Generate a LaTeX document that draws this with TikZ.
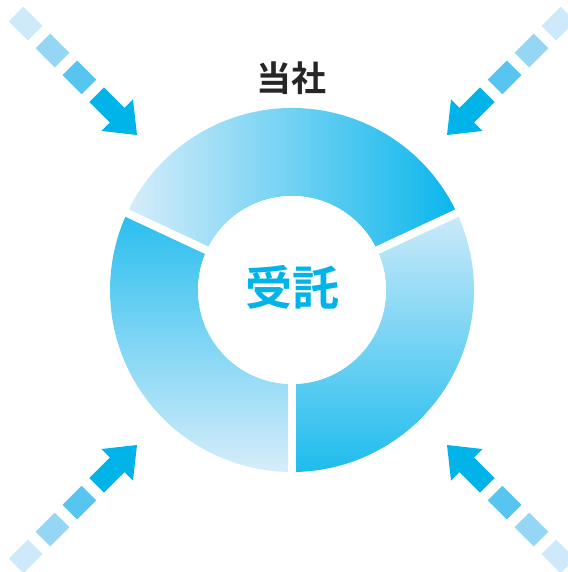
\documentclass[tikz,border=0pt]{standalone}
\usepackage{fontspec}
\newfontfamily\jpfont{Noto Sans CJK JP}[BoldFont={Noto Sans CJK JP Bold}]
\definecolor{ringlight}{RGB}{214,237,250}
\definecolor{ringdark}{RGB}{10,182,236}
\definecolor{dashA}{RGB}{205,233,250}
\definecolor{dashB}{RGB}{150,214,245}
\definecolor{dashC}{RGB}{88,196,240}
\definecolor{arrowcyan}{RGB}{0,180,233}
\tikzset{
  gapline/.style={white, line width=8pt},
  arrowhead/.style={fill=arrowcyan}
}

\begin{document}
\begin{tikzpicture}[x=1pt,y=1pt]
\useasboundingbox (-292,-282) rectangle (275,290);
\shade[left color=ringlight, right color=ringdark] (25:182) arc[start angle=25, end angle=155, radius=182] -- (155:94) arc[start angle=155, end angle=25, radius=94] -- cycle;
\shade[top color=ringdark!85!ringlight, bottom color=ringlight] (155:182) arc[start angle=155, end angle=270, radius=182] -- (270:94) arc[start angle=270, end angle=155, radius=94] -- cycle;
\shade[top color=ringlight!95!ringdark, bottom color=ringdark!90!ringlight] (270:182) arc[start angle=270, end angle=385, radius=182] -- (25:94) arc[start angle=385, end angle=270, radius=94] -- cycle;
\draw[gapline] (0,0) -- (25:195);
\draw[gapline] (0,0) -- (155:195);
\draw[gapline] (0,0) -- (270:195);
\fill[white] (0,0) circle (94);
\node[text=black!85] (company) at (-1,212) {\jpfont\bfseries\fontsize{35}{35}\selectfont 当社};
\node[text=arrowcyan] (entrust) at (0,3) {\jpfont\bfseries\fontsize{47}{47}\selectfont 受託};

\begin{scope}[shift={(-155,155)},rotate=-45]
\fill[dashA] (-171,-10.3) rectangle (-144,10.3);
\fill[dashB] (-133,-10.3) rectangle (-106,10.3);
\fill[dashC] (-95,-10.3) rectangle (-68,10.3);
\fill[arrowhead] (-57,-10.3) -- (-28,-10.3) -- (-28,-22.3) -- (0,0) -- (-28,22.3) -- (-28,10.3) -- (-57,10.3) -- cycle;
\end{scope}
\begin{scope}[shift={(155,155)},rotate=-135]
\fill[dashA] (-171,-10.3) rectangle (-144,10.3);
\fill[dashB] (-133,-10.3) rectangle (-106,10.3);
\fill[dashC] (-95,-10.3) rectangle (-68,10.3);
\fill[arrowhead] (-57,-10.3) -- (-28,-10.3) -- (-28,-22.3) -- (0,0) -- (-28,22.3) -- (-28,10.3) -- (-57,10.3) -- cycle;
\end{scope}
\begin{scope}[shift={(-155,-155)},rotate=45]
\fill[dashA] (-171,-10.3) rectangle (-144,10.3);
\fill[dashB] (-133,-10.3) rectangle (-106,10.3);
\fill[dashC] (-95,-10.3) rectangle (-68,10.3);
\fill[arrowhead] (-57,-10.3) -- (-28,-10.3) -- (-28,-22.3) -- (0,0) -- (-28,22.3) -- (-28,10.3) -- (-57,10.3) -- cycle;
\end{scope}
\begin{scope}[shift={(155,-155)},rotate=135]
\fill[dashA] (-171,-10.3) rectangle (-144,10.3);
\fill[dashB] (-133,-10.3) rectangle (-106,10.3);
\fill[dashC] (-95,-10.3) rectangle (-68,10.3);
\fill[arrowhead] (-57,-10.3) -- (-28,-10.3) -- (-28,-22.3) -- (0,0) -- (-28,22.3) -- (-28,10.3) -- (-57,10.3) -- cycle;
\end{scope}
\end{tikzpicture}
\end{document}
